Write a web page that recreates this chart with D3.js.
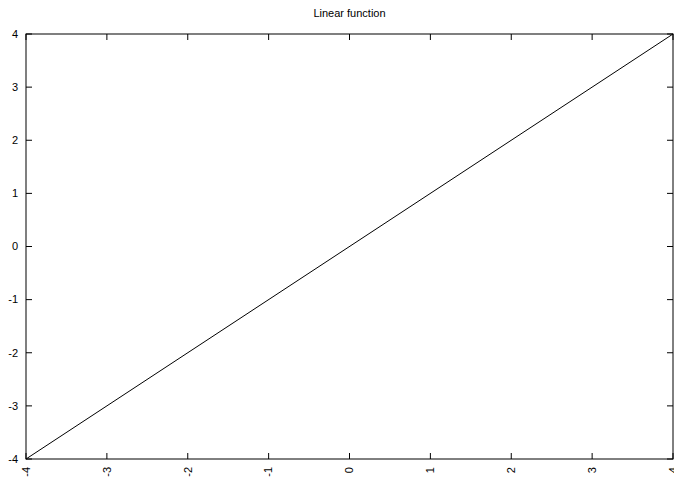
<!DOCTYPE html>
<html>
<head>
<meta charset="utf-8">
<script src="https://cdn.jsdelivr.net/npm/d3@7"></script>
<style>
  body { margin: 0; background: #fff; }
  text { font-family: "Liberation Sans", Arial, sans-serif; fill: #000; }
</style>
</head>
<body>
<svg id="graph"></svg>
<script>
const width = 674;
const height = 480;
const margin = { top: 34, right: 1, bottom: 21, left: 26 };
const graphWidth = width - margin.left - margin.right;
const graphHeight = height - margin.top - margin.bottom;

// data
const title = "Linear function";
const xValues = [-4, 4];
const yValues = [-4, 4];
const xTicks = [-4, -3, -2, -1, 0, 1, 2, 3, 4];
const yTicks = [-4, -3, -2, -1, 0, 1, 2, 3, 4];

const svg = d3.select("#graph")
    .attr("width", width)
    .attr("height", height);

const graph = svg.append("g")
    .attr("transform", `translate(${margin.left},${margin.top})`);

const xScale = d3.scaleLinear().domain([-4, 4]).range([0, graphWidth]);
const yScale = d3.scaleLinear().domain([-4, 4]).range([graphHeight, 0]);

// frame
graph.append("rect")
    .attr("x", 0).attr("y", 0)
    .attr("width", graphWidth).attr("height", graphHeight)
    .attr("fill", "none")
    .attr("stroke", "#000")
    .attr("stroke-width", 1);

// inward ticks, mirrored on all sides
const tickLen = 6;
graph.selectAll(".xt-bottom").data(xTicks).join("line")
    .attr("x1", d => xScale(d)).attr("x2", d => xScale(d))
    .attr("y1", graphHeight).attr("y2", graphHeight - tickLen)
    .attr("stroke", "#000");
graph.selectAll(".xt-top").data(xTicks).join("line")
    .attr("x1", d => xScale(d)).attr("x2", d => xScale(d))
    .attr("y1", 0).attr("y2", tickLen)
    .attr("stroke", "#000");
graph.selectAll(".yt-left").data(yTicks).join("line")
    .attr("x1", 0).attr("x2", tickLen)
    .attr("y1", d => yScale(d)).attr("y2", d => yScale(d))
    .attr("stroke", "#000");
graph.selectAll(".yt-right").data(yTicks).join("line")
    .attr("x1", graphWidth).attr("x2", graphWidth - tickLen)
    .attr("y1", d => yScale(d)).attr("y2", d => yScale(d))
    .attr("stroke", "#000");

// y labels
graph.selectAll(".ylabel").data(yTicks).join("text")
    .attr("x", -8)
    .attr("y", d => yScale(d))
    .attr("dy", "0.35em")
    .attr("text-anchor", "end")
    .attr("font-size", 11)
    .text(d => d);

// x labels, rotated
graph.selectAll(".xlabel").data(xTicks).join("text")
    .attr("transform", d => `translate(${xScale(d)},${graphHeight + 8}) rotate(-90)`)
    .attr("dy", "0.35em")
    .attr("text-anchor", "end")
    .attr("font-size", 11)
    .text(d => d);

// title
svg.append("text")
    .attr("x", margin.left + graphWidth / 2)
    .attr("y", 17)
    .attr("text-anchor", "middle")
    .attr("font-size", 11)
    .text(title);

// the line
const line = d3.line()
    .x(d => xScale(d[0]))
    .y(d => yScale(d[1]));

graph.append("path")
    .attr("d", line(xValues.map((x, i) => [x, yValues[i]])))
    .attr("fill", "none")
    .attr("stroke", "#000")
    .attr("stroke-width", 1);
</script>
</body>
</html>
